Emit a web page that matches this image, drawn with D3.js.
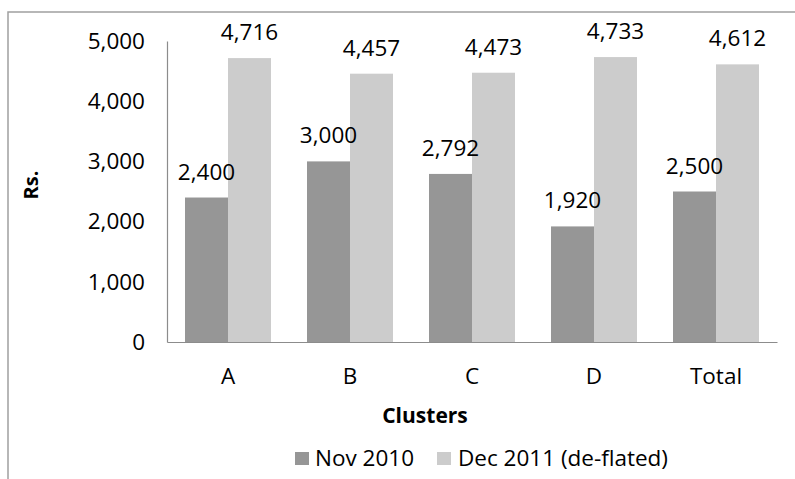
<!DOCTYPE html>
<html>
<head>
<meta charset="utf-8">
<script src="https://cdn.jsdelivr.net/npm/d3@7/dist/d3.min.js"></script>
<style>
  html, body { margin: 0; padding: 0; background: #fff; }
  svg { display: block; font-family: "Open Sans", sans-serif; }
</style>
</head>
<body>
<svg id="chart" width="795" height="479"></svg>
<script>
// Monthly amounts per cluster
const clusters = ["A", "B", "C", "D", "Total"];
const nov2010 = [2400, 3000, 2792, 1920, 2500];
const dec2011 = [4716, 4457, 4473, 4733, 4612];
const seriesNames = ["Nov 2010", "Dec 2011 (de-flated)"];
const seriesColors = ["#969696", "#cccccc"];
const yTicks = [0, 1000, 2000, 3000, 4000, 5000];

const svg = d3.select("#chart");
const margin = { left: 167, right: 795 - 777, top: 41, bottom: 479 - 342 };
const W = 795, H = 479;

// outer chart frame (runs past the right and bottom edges)
svg.append("rect")
  .attr("x", 8).attr("y", 12).attr("width", 790).attr("height", 470)
  .attr("fill", "none").attr("stroke", "#a0a0a0").attr("stroke-width", 1.5);

const x0 = d3.scaleBand().domain(clusters)
  .range([margin.left, W - margin.right]).paddingInner(0).paddingOuter(0);
const x1 = d3.scaleBand().domain([0, 1])
  .range([0, x0.bandwidth()]).paddingInner(0).paddingOuter(0.4186);
const y = d3.scaleLinear().domain([0, 5000]).range([H - margin.bottom, margin.top]);

const fmt = d3.format(",");

// y axis
const yAxis = d3.axisLeft(y).tickValues(yTicks).tickFormat(fmt).tickSize(0).tickPadding(22);
const gy = svg.append("g").attr("transform", `translate(${margin.left},0)`).call(yAxis);
gy.select(".domain").attr("stroke", "#8c8c8c").attr("stroke-width", 1.2);
gy.selectAll("text").attr("font-size", 22.5).attr("fill", "#000")
  .attr("font-family", "Open Sans, sans-serif");

// x axis
const xAxis = d3.axisBottom(x0).tickSize(0).tickPadding(26);
const gx = svg.append("g").attr("transform", `translate(0,${y(0)})`).call(xAxis);
gx.select(".domain").attr("stroke", "#8c8c8c").attr("stroke-width", 1.2);
gx.selectAll("text").attr("font-size", 22.5).attr("fill", "#000")
  .attr("font-family", "Open Sans, sans-serif");

// flatten into one record per bar
const series = [nov2010, dec2011];
const bars = [];
clusters.forEach((c, i) => series.forEach((vals, s) => bars.push({ c, s, v: vals[i] })));

const barX = d => x0(d.c) + x1(d.s);

svg.append("g").selectAll("rect").data(bars).join("rect")
  .attr("x", barX).attr("width", x1.bandwidth())
  .attr("y", d => y(d.v)).attr("height", d => y(0) - y(d.v))
  .attr("fill", d => seriesColors[d.s]);

// value labels on top of all bars
svg.append("g").selectAll("text").data(bars).join("text")
  .attr("x", d => barX(d) + x1.bandwidth() / 2)
  .attr("y", d => y(d.v) - 18)
  .attr("text-anchor", "middle")
  .attr("font-size", 22.5).attr("fill", "#000")
  .text(d => fmt(d.v));

// axis titles
svg.append("text")
  .attr("transform", `translate(38,185) rotate(-90)`)
  .attr("text-anchor", "middle")
  .attr("font-size", 20).attr("font-weight", "bold")
  .text("Rs.");

svg.append("text")
  .attr("x", 425).attr("y", 423)
  .attr("text-anchor", "middle")
  .attr("font-size", 21).attr("font-weight", "bold")
  .text("Clusters");

// legend
const legendItems = [
  { x: 295, tx: 315 },
  { x: 437, tx: 458 }
];
legendItems.forEach((it, s) => {
  svg.append("rect").attr("x", it.x).attr("y", 452)
    .attr("width", 14).attr("height", 13).attr("fill", seriesColors[s]);
  svg.append("text").attr("x", it.tx).attr("y", 466)
    .attr("font-size", 22.5).attr("fill", "#000")
    .text(seriesNames[s]);
});
</script>
</body>
</html>
